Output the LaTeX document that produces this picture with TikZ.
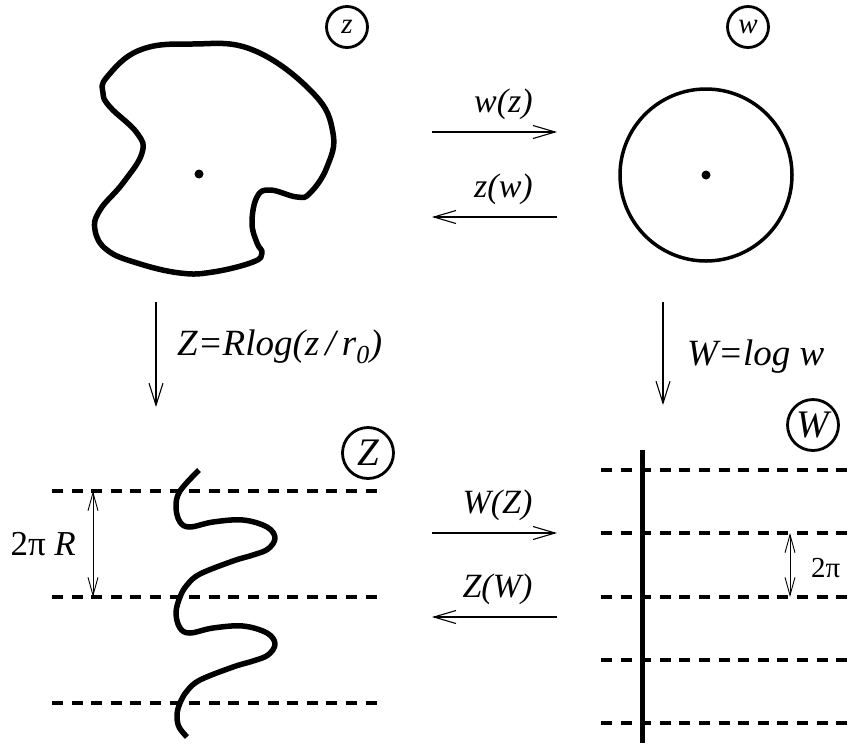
\documentclass[tikz,border=0pt]{standalone}
\usepackage{fontspec}
\setmainfont{Liberation Serif}
\usepackage{tikz}
\usetikzlibrary{arrows.meta,positioning}
\tikzstyle{maparrow} = [line width=2pt, -{Straight Barb[length=22pt,width=13pt,line width=1.1pt]}]
\tikzstyle{logarrow} = [line width=1.6pt, -{Straight Barb[length=22pt,width=14pt,line width=1.1pt]}]
\tikzstyle{spanarrow} = [line width=0.9pt, {Straight Barb[length=18pt,width=10pt,line width=0.9pt]}-{Straight Barb[length=18pt,width=10pt,line width=0.9pt]}]
\tikzstyle{boundary} = [line width=5.5pt, line join=round]
\tikzstyle{gridline} = [line width=4pt, dash pattern=on 11pt off 8.6pt]
\tikzstyle{smallplane} = [circle, draw, line width=2.8pt, minimum size=41pt, inner sep=0pt, font=\fontsize{29}{30}\selectfont\itshape]
\tikzstyle{bigplane} = [circle, draw, line width=2.8pt, minimum size=51pt, inner sep=0pt, font=\fontsize{39}{40}\selectfont\itshape]
\tikzstyle{maplabel} = [font=\fontsize{34}{36}\selectfont\itshape, inner sep=0pt, above=11pt]
\tikzstyle{loglabel} = [font=\fontsize{37}{40}\selectfont\itshape, inner sep=0pt, anchor=base west]
\begin{document}
\begin{tikzpicture}[x=1pt,y=-1pt]
\useasboundingbox (0,0) rectangle (849,748);

% z plane: the region
\draw[boundary] plot[smooth cycle, tension=0.7] coordinates {(140,50) (192,44) (253,50) (313,93) (333,133) (327,167) (310,193) (297,197) (270,190) (257,197) (252,223) (257,243) (262,253) (253,262) (213,272) (180,273) (137,263) (107,250) (95,230) (100,210) (123,183) (142,153) (137,133) (110,107) (103,93) (107,77)};
\fill (199,174) circle[radius=4.5];
\node[smallplane] (zplane) at (347,27) {z};

% w plane: the unit disk
\draw[line width=3.5pt] (706,175) circle[radius=86];
\fill (706,175) circle[radius=4.5];
\node[smallplane] (wplane) at (748,27) {w};

% Maps between z and w
\coordinate (wz-tail) at (432,132);
\coordinate (wz-head) at (557,132);
\coordinate (zw-tail) at (557,217);
\coordinate (zw-head) at (432,217);
\draw[maparrow] (wz-tail) -- (wz-head) node[maplabel, midway, xshift=9pt] {w(z)};
\draw[maparrow] (zw-tail) -- (zw-head) node[maplabel, midway, xshift=9pt] {z(w)};

% Logarithms
\coordinate (zlog-tail) at (156,302);
\coordinate (zlog-head) at (156,407);
\coordinate (wlog-tail) at (663,302);
\coordinate (wlog-head) at (663,405);
\draw[logarrow] (zlog-tail) -- (zlog-head);
\draw[logarrow] (wlog-tail) -- (wlog-head);
\node[loglabel] (zlog) at (177,355) {Z=Rlog(z\,/\,r\textsubscript{0})};
\node[loglabel] (wlog) at (687,365) {W=log w};

% Z plane: the strip picture
\draw[gridline] (52,491) -- (385,491);
\draw[gridline] (52,597) -- (385,597);
\draw[gridline] (52,703) -- (385,703);
\draw[boundary] plot[smooth, tension=0.6] coordinates {(199,470) (180,491) (176,507) (180,522) (190,527) (213,522) (243,520) (267,527) (275,538) (268,549) (253,555) (233,561) (200,574) (187,585) (180,597) (176,613) (180,628) (190,633) (213,628) (243,626) (267,633) (275,644) (268,655) (253,661) (233,667) (200,680) (187,691) (180,703) (177,715) (179,727) (187,737)};
\coordinate (Rtop) at (93,491);
\coordinate (Rbot) at (93,597);
\draw[spanarrow] (Rtop) -- (Rbot);
\node[font=\fontsize{35}{36}\selectfont, anchor=base east, inner sep=0pt] (Rspan) at (76,555) {2π \textit{R}};
\node[bigplane] (Zplane) at (368,453) {Z};

% W plane: the half-plane picture
\foreach \y in {470,533,597,660,723}
  \draw[gridline] (601,\y) -- (849,\y);
\draw[line width=5pt] (642,450) -- (642,743);
\coordinate (Wtop) at (790,533);
\coordinate (Wbot) at (790,597);
\draw[spanarrow] (Wtop) -- (Wbot);
\node[font=\fontsize{29}{30}\selectfont, anchor=base west, inner sep=0pt] (Wspan) at (811,577) {2π};
\node[bigplane] (Wplane) at (813,425) {W};

% Maps between Z and W
\coordinate (WZ-tail) at (432,533);
\coordinate (WZ-head) at (557,533);
\coordinate (ZW-tail) at (557,617);
\coordinate (ZW-head) at (432,617);
\draw[maparrow] (WZ-tail) -- (WZ-head) node[maplabel, midway, xshift=3pt] {W(Z)};
\draw[maparrow] (ZW-tail) -- (ZW-head) node[maplabel, midway, xshift=3pt] {Z(W)};
\end{tikzpicture}
\end{document}
